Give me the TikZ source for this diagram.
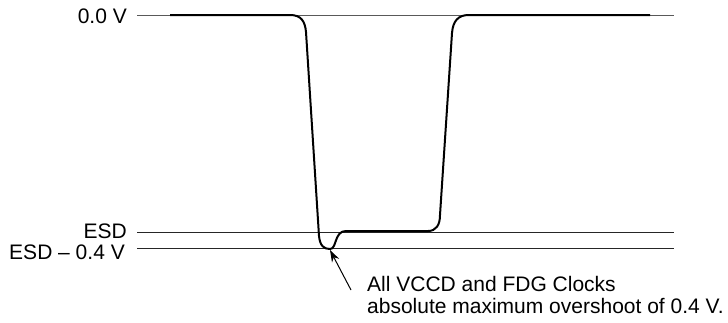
\documentclass[tikz,border=0pt]{standalone}
\usepackage{fontspec}
\setmainfont{Liberation Sans}
\usetikzlibrary{arrows.meta,positioning}

\begin{document}
\begin{tikzpicture}[x=1pt,y=-1pt,>={Stealth[length=12pt,width=8pt]},
    level/.style={line width=0.8pt,black!85},
    wave/.style={line width=2pt,line join=round},
    lbl/.style={anchor=base east,inner sep=0pt,font=\fontsize{21}{22}\selectfont}]
  \useasboundingbox (0,0) rectangle (728,322);

  % reference levels
  \coordinate (z0) at (137,15);  \coordinate (z1) at (674,15);
  \coordinate (e0) at (137,232); \coordinate (e1) at (674,232);
  \coordinate (m0) at (137,248); \coordinate (m1) at (674,248);
  \draw[level,black!65] (z0) -- (z1);
  \draw[level] (e0) -- (e1);
  \draw[level] (m0) -- (m1);

  \node[lbl] (zero) at (127,23)  {0.0 V};
  \node[lbl] (esd)  at (127,238) {ESD};
  \node[lbl] (esdm) at (125,259) {ESD -- 0.4 V};

  % clock waveform
  \draw[wave] (170,15) -- (290,15)
      .. controls (301,15) and (305,21) .. (306,32)
      -- (319,236)
      .. controls (320,246) and (324,249) .. (330,249)
      .. controls (337,249) and (334,231) .. (346,231)
      -- (428,231)
      .. controls (436,231) and (440,225) .. (440,215)
      -- (452,33)
      .. controls (453,21) and (458,15) .. (469,15)
      -- (650,15);

  % note
  \node[anchor=north west,inner sep=0pt,align=left,font=\fontsize{21}{22}\selectfont]
      (note) at (367,276) {All VCCD and FDG Clocks\\absolute maximum overshoot of 0.4 V.};
  \coordinate (dip)  at (330,250);
  \coordinate (tail) at (351,290);
  \draw[->,line width=1pt] (tail) -- (dip);
\end{tikzpicture}
\end{document}
